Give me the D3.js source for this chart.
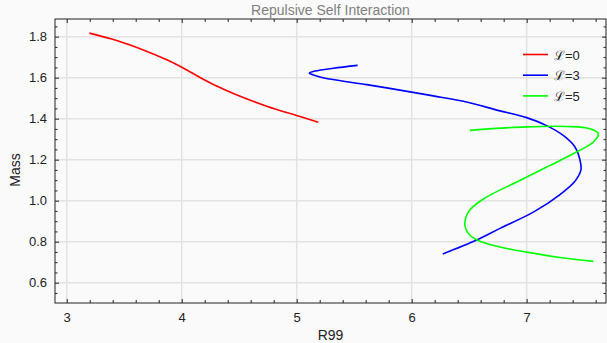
<!DOCTYPE html>
<html>
<head>
<meta charset="utf-8">
<script src="https://cdn.jsdelivr.net/npm/d3@7"></script>
<style>
  body { margin: 0; background: #fafafa; }
  text { font-family: "Liberation Sans", Arial, sans-serif; }
</style>
</head>
<body>
<div id="chart"></div>
<script>
// data: R99 (x) and Mass (y)
var red0 = [
  [3.197, 1.817], [3.435, 1.781], [3.666, 1.735], [3.870, 1.687], [3.997, 1.652],
  [4.159, 1.601], [4.304, 1.559], [4.449, 1.523], [4.739, 1.461], [5.029, 1.411],
  [5.188, 1.383]
];
var blue3 = [
  [5.53, 1.660], [5.318, 1.646], [5.16, 1.632], [5.11, 1.622], [5.159, 1.611],
  [5.30, 1.592], [5.609, 1.566], [5.898, 1.539], [6.188, 1.511], [6.478, 1.481],
  [6.768, 1.438], [7.00, 1.405], [7.174, 1.366], [7.318, 1.318], [7.42, 1.262],
  [7.463, 1.200], [7.472, 1.150], [7.42, 1.095], [7.29, 1.030], [7.058, 0.944],
  [6.768, 0.865], [6.565, 0.808], [6.27, 0.740]
];
var green5 = [
  [6.507, 1.343], [7.00, 1.360], [7.348, 1.362], [7.55, 1.351], [7.623, 1.327],
  [7.58, 1.286], [7.449, 1.242], [7.203, 1.172], [6.94, 1.098],
  [6.623, 1.008], [6.492, 0.944], [6.463, 0.880], [6.507, 0.831], [6.579, 0.806],
  [6.768, 0.774], [7.00, 0.749], [7.29, 0.723], [7.58, 0.704]
];
var seriesNames = ["\u2112=0", "\u2112=3", "\u2112=5"];
var seriesColors = ["#ff0000", "#0000ff", "#00ff00"];
var xTicks = [3, 4, 5, 6, 7];
var yTicks = [0.6, 0.8, 1.0, 1.2, 1.4, 1.6, 1.8];

var svgWidth = 607;
var svgHeight = 343;
var margin = { top: 19, right: 1, bottom: 40, left: 55 };
var chartWidth = svgWidth - margin.left - margin.right;
var chartHeight = svgHeight - margin.top - margin.bottom;

var svg = d3.select("#chart")
  .append("svg")
  .attr("width", svgWidth)
  .attr("height", svgHeight);

svg.append("rect")
  .attr("width", svgWidth)
  .attr("height", svgHeight)
  .attr("fill", "#fafafa");

var chartGroup = svg.append("g")
  .attr("transform", `translate(${margin.left}, ${margin.top})`);

var x = d3.scaleLinear().domain([2.898, 7.69]).range([0, chartWidth]);
var y = d3.scaleLinear().domain([0.501, 1.886]).range([chartHeight, 0]);

// grid
chartGroup.append("g").selectAll("line")
  .data(xTicks).enter().append("line")
  .attr("x1", d => x(d)).attr("x2", d => x(d))
  .attr("y1", 0).attr("y2", chartHeight)
  .attr("stroke", "#e2e2e2").attr("stroke-width", 1.5);
chartGroup.append("g").selectAll("line")
  .data(yTicks).enter().append("line")
  .attr("y1", d => y(d)).attr("y2", d => y(d))
  .attr("x1", 0).attr("x2", chartWidth)
  .attr("stroke", "#e2e2e2").attr("stroke-width", 1.5);

// minor ticks
var xMinor = d3.range(3, 7.7, 0.2).filter(v => Math.abs(v - Math.round(v)) > 1e-6);
var yMinor = d3.range(0.55, 1.9, 0.05).filter(v => Math.abs(v * 5 - Math.round(v * 5)) > 1e-6);

function addAxis(axis, transform) {
  var g = chartGroup.append("g").attr("transform", transform).call(axis);
  g.select(".domain").remove();
  g.selectAll("line").attr("stroke", "#222");
  g.selectAll("text").attr("font-size", 13).attr("fill", "#222");
  return g;
}

addAxis(d3.axisBottom(x).tickValues(xTicks).tickFormat(d3.format("d")).tickSizeInner(-4).tickPadding(10),
  `translate(0, ${chartHeight})`);
addAxis(d3.axisBottom(x).tickValues(xMinor).tickFormat("").tickSizeInner(-3), `translate(0, ${chartHeight})`);
addAxis(d3.axisTop(x).tickValues(xTicks).tickFormat("").tickSizeInner(-4), "translate(0,0)");
addAxis(d3.axisTop(x).tickValues(xMinor).tickFormat("").tickSizeInner(-3), "translate(0,0)");

addAxis(d3.axisLeft(y).tickValues(yTicks).tickFormat(d3.format(".1f")).tickSizeInner(-4).tickPadding(8), "translate(0,0)");
addAxis(d3.axisLeft(y).tickValues(yMinor).tickFormat("").tickSizeInner(-2.5), "translate(0,0)");
addAxis(d3.axisRight(y).tickValues(yTicks).tickFormat("").tickSizeInner(-4), `translate(${chartWidth},0)`);
addAxis(d3.axisRight(y).tickValues(yMinor).tickFormat("").tickSizeInner(-2.5), `translate(${chartWidth},0)`);

// frame
chartGroup.append("rect")
  .attr("width", chartWidth).attr("height", chartHeight)
  .attr("fill", "none").attr("stroke", "#222").attr("stroke-width", 1);

// curves
var line = d3.line().x(d => x(d[0])).y(d => y(d[1])).curve(d3.curveCatmullRom.alpha(0.5));
[red0, blue3, green5].forEach(function(series, i) {
  chartGroup.append("path")
    .datum(series)
    .attr("d", line)
    .attr("fill", "none")
    .attr("stroke", seriesColors[i])
    .attr("stroke-width", 1.6);
});

// legend
var legend = svg.append("g");
seriesNames.forEach(function(name, i) {
  var ly = 54.5 + i * 20.7;
  legend.append("line")
    .attr("x1", 523).attr("x2", 548)
    .attr("y1", ly).attr("y2", ly)
    .attr("stroke", seriesColors[i]).attr("stroke-width", 1.6);
  legend.append("text")
    .attr("x", 554).attr("y", ly + 5)
    .attr("font-size", 13).attr("fill", "#222")
    .text(name);
});

// title and axis labels
svg.append("text")
  .attr("x", margin.left + chartWidth / 2).attr("y", 15)
  .attr("text-anchor", "middle")
  .attr("font-size", 14).attr("fill", "#808080")
  .text("Repulsive Self Interaction");

svg.append("text")
  .attr("x", margin.left + chartWidth / 2).attr("y", 340)
  .attr("text-anchor", "middle")
  .attr("font-size", 14).attr("fill", "#222")
  .text("R99");

svg.append("text")
  .attr("transform", "rotate(-90)")
  .attr("x", -170).attr("y", 20)
  .attr("text-anchor", "middle")
  .attr("font-size", 14).attr("fill", "#222")
  .text("Mass");
</script>
</body>
</html>
